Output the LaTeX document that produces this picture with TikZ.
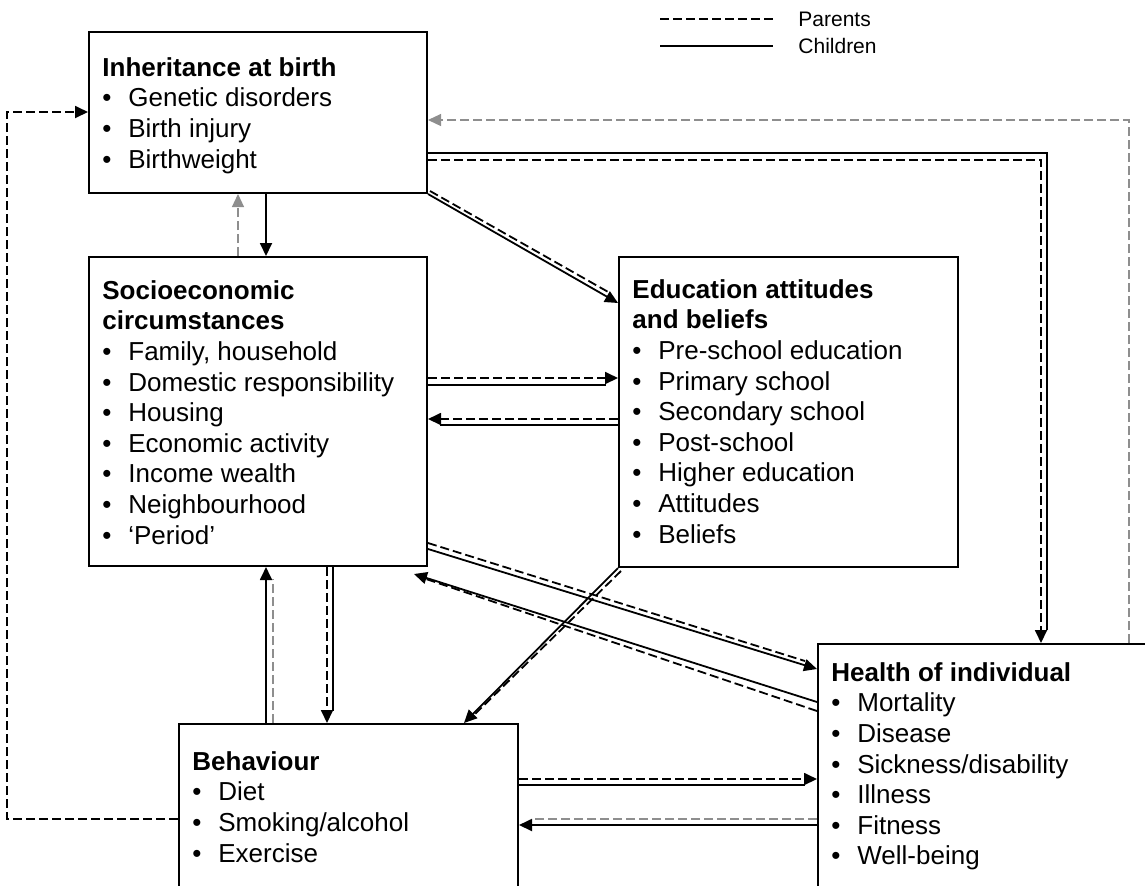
\documentclass[tikz,border=0pt]{standalone}
\usepackage{fontspec}
\setmainfont{Liberation Sans}
\usepackage{tikz}
\usetikzlibrary{arrows.meta,calc,fit}
\definecolor{ink}{HTML}{000000}
\definecolor{faint}{HTML}{8E8E8E}
\newcommand{\itm}{\makebox[13pt][l]{\textbullet}}

\begin{document}
\begin{tikzpicture}[x=0.5pt,y=-0.5pt,
  box/.style={draw=ink,line width=1pt,inner sep=0pt},
  txt/.style={anchor=north west,inner sep=0pt,align=left,text=ink,font=\fontsize{13}{15.3}\selectfont},
  child/.style={draw=ink,line width=0.9pt},
  parent/.style={draw=ink,line width=0.9pt,dash pattern=on 4.5pt off 2pt},
  parentlt/.style={draw=faint,line width=0.6pt,dash pattern=on 4.5pt off 2pt},
  tip/.style={-{Triangle[length=6.5pt,width=6pt]}}]
  \useasboundingbox (0,0) rectangle (1145,885);
  \clip (0,0) rectangle (1145,885);

  % boxes
  \node[box,fit={(89,32) (427,193)}] (inh) {};
  \node[box,fit={(89,257) (427,566)}] (soc) {};
  \node[box,fit={(619,257) (958,567)}] (edu) {};
  \node[box,fit={(179,724) (518,900)}] (beh) {};
  \node[box,fit={(818,644) (1160,900)}] (hlt) {};

  \node[txt] (inhtxt) at ($(inh.north west)+(14,26)$) {\textbf{Inheritance at birth}\\
    \itm Genetic disorders\\ \itm Birth injury\\ \itm Birthweight};
  \node[txt] (soctxt) at ($(soc.north west)+(14,24)$) {\textbf{Socioeconomic}\\ \textbf{circumstances}\\
    \itm Family, household\\ \itm Domestic responsibility\\ \itm Housing\\ \itm Economic activity\\
    \itm Income wealth\\ \itm Neighbourhood\\ \itm `Period'};
  \node[txt] (edutxt) at ($(edu.north west)+(14,23)$) {\textbf{Education attitudes}\\ \textbf{and beliefs}\\
    \itm Pre-school education\\ \itm Primary school\\ \itm Secondary school\\ \itm Post-school\\
    \itm Higher education\\ \itm Attitudes\\ \itm Beliefs};
  \node[txt] (behtxt) at ($(beh.north west)+(14,28)$) {\textbf{Behaviour}\\
    \itm Diet\\ \itm Smoking/alcohol\\ \itm Exercise};
  \node[txt] (hlttxt) at ($(hlt.north west)+(14,19)$) {\textbf{Health of individual}\\
    \itm Mortality\\ \itm Disease\\ \itm Sickness/disability\\ \itm Illness\\ \itm Fitness\\ \itm Well-being};

  % legend
  \node[anchor=west,inner sep=0pt,font=\fontsize{10.5}{12}\selectfont] (legpar) at (798,19) {Parents};
  \node[anchor=west,inner sep=0pt,font=\fontsize{10.5}{12}\selectfont] (legchi) at (798,46) {Children};
  \draw[parent] ($(legpar.west)+(-138,0)$) -- ($(legpar.west)+(-25,0)$);
  \draw[child] ($(legchi.west)+(-138,0)$) -- ($(legchi.west)+(-25,0)$);

  % inheritance <-> socioeconomic
  \draw[child,tip] ($(inh.south west)+(178,0)$) -- ($(soc.north west)+(178,0)$);
  \draw[parentlt,tip] ($(soc.north west)+(150,0)$) -- ($(inh.south west)+(150,0)$);
  % inheritance -> education
  \draw[child,tip] (inh.south east) -- ($(edu.north west)+(0,47)$);
  \draw[parent] ($(inh.south east)+(2,-3)$) -- ($(edu.north west)+(-8,37)$);
  % inheritance -> health
  \draw[parent,tip] ($(inh.north east)+(0,129)$) -| ($(hlt.north west)+(224,0)$);
  \draw[child] ($(inh.north east)+(0,122)$) -| ($(hlt.north west)+(230,-13)$);
  % health -> inheritance
  \draw[parentlt,tip] ($(hlt.north west)+(312,0)$) |- ($(inh.north east)+(0,89)$);
  % behaviour -> inheritance
  \draw[parent,tip] ($(beh.north west)+(0,96)$) -- ++(-171,0) |- ($(inh.north west)+(0,81)$);
  % socioeconomic <-> education
  \draw[parent,tip] ($(soc.north east)+(0,122)$) -- ($(edu.north west)+(0,122)$);
  \draw[child] ($(soc.north east)+(0,129)$) -- ($(edu.north west)+(-12,129)$);
  \draw[parent,tip] ($(edu.north west)+(0,163)$) -- ($(soc.north east)+(0,163)$);
  \draw[child] ($(edu.north west)+(0,169)$) -- ($(soc.north east)+(12,169)$);
  % socioeconomic <-> health
  \draw[child,tip] ($(soc.south east)+(0,-18)$) -- ($(hlt.north west)+(0,26)$);
  \draw[parent] ($(soc.south east)+(0,-24)$) -- ($(hlt.north west)+(-12,18)$);
  \draw[child,tip] ($(hlt.north west)+(0,59)$) -- ($(soc.south east)+(-14,7)$);
  \draw[parent] ($(hlt.north west)+(0,68)$) -- ($(soc.south east)+(-2,12)$);
  % education -> behaviour
  \draw[child,tip] (edu.south west) -- ($(beh.north west)+(286,0)$);
  \draw[parent] ($(edu.south west)+(3,3)$) -- ($(beh.north west)+(296,-8)$);
  % socioeconomic <-> behaviour
  \draw[parent,tip] ($(soc.south west)+(239,0)$) -- ($(beh.north west)+(149,0)$);
  \draw[child] ($(soc.south west)+(245,0)$) -- ($(beh.north west)+(155,-12)$);
  \draw[child,tip] ($(beh.north west)+(88,0)$) -- ($(soc.south west)+(178,0)$);
  \draw[parentlt] ($(beh.north west)+(95,0)$) -- ($(soc.south west)+(185,12)$);
  % behaviour <-> health
  \draw[parent,tip] ($(beh.north east)+(0,56)$) -- ($(hlt.north west)+(0,136)$);
  \draw[child] ($(beh.north east)+(0,62)$) -- ($(hlt.north west)+(-12,142)$);
  \draw[child,tip] ($(hlt.north west)+(0,182)$) -- ($(beh.north east)+(0,102)$);
  \draw[parentlt] ($(hlt.north west)+(0,176)$) -- ($(beh.north east)+(12,96)$);
\end{tikzpicture}
\end{document}
